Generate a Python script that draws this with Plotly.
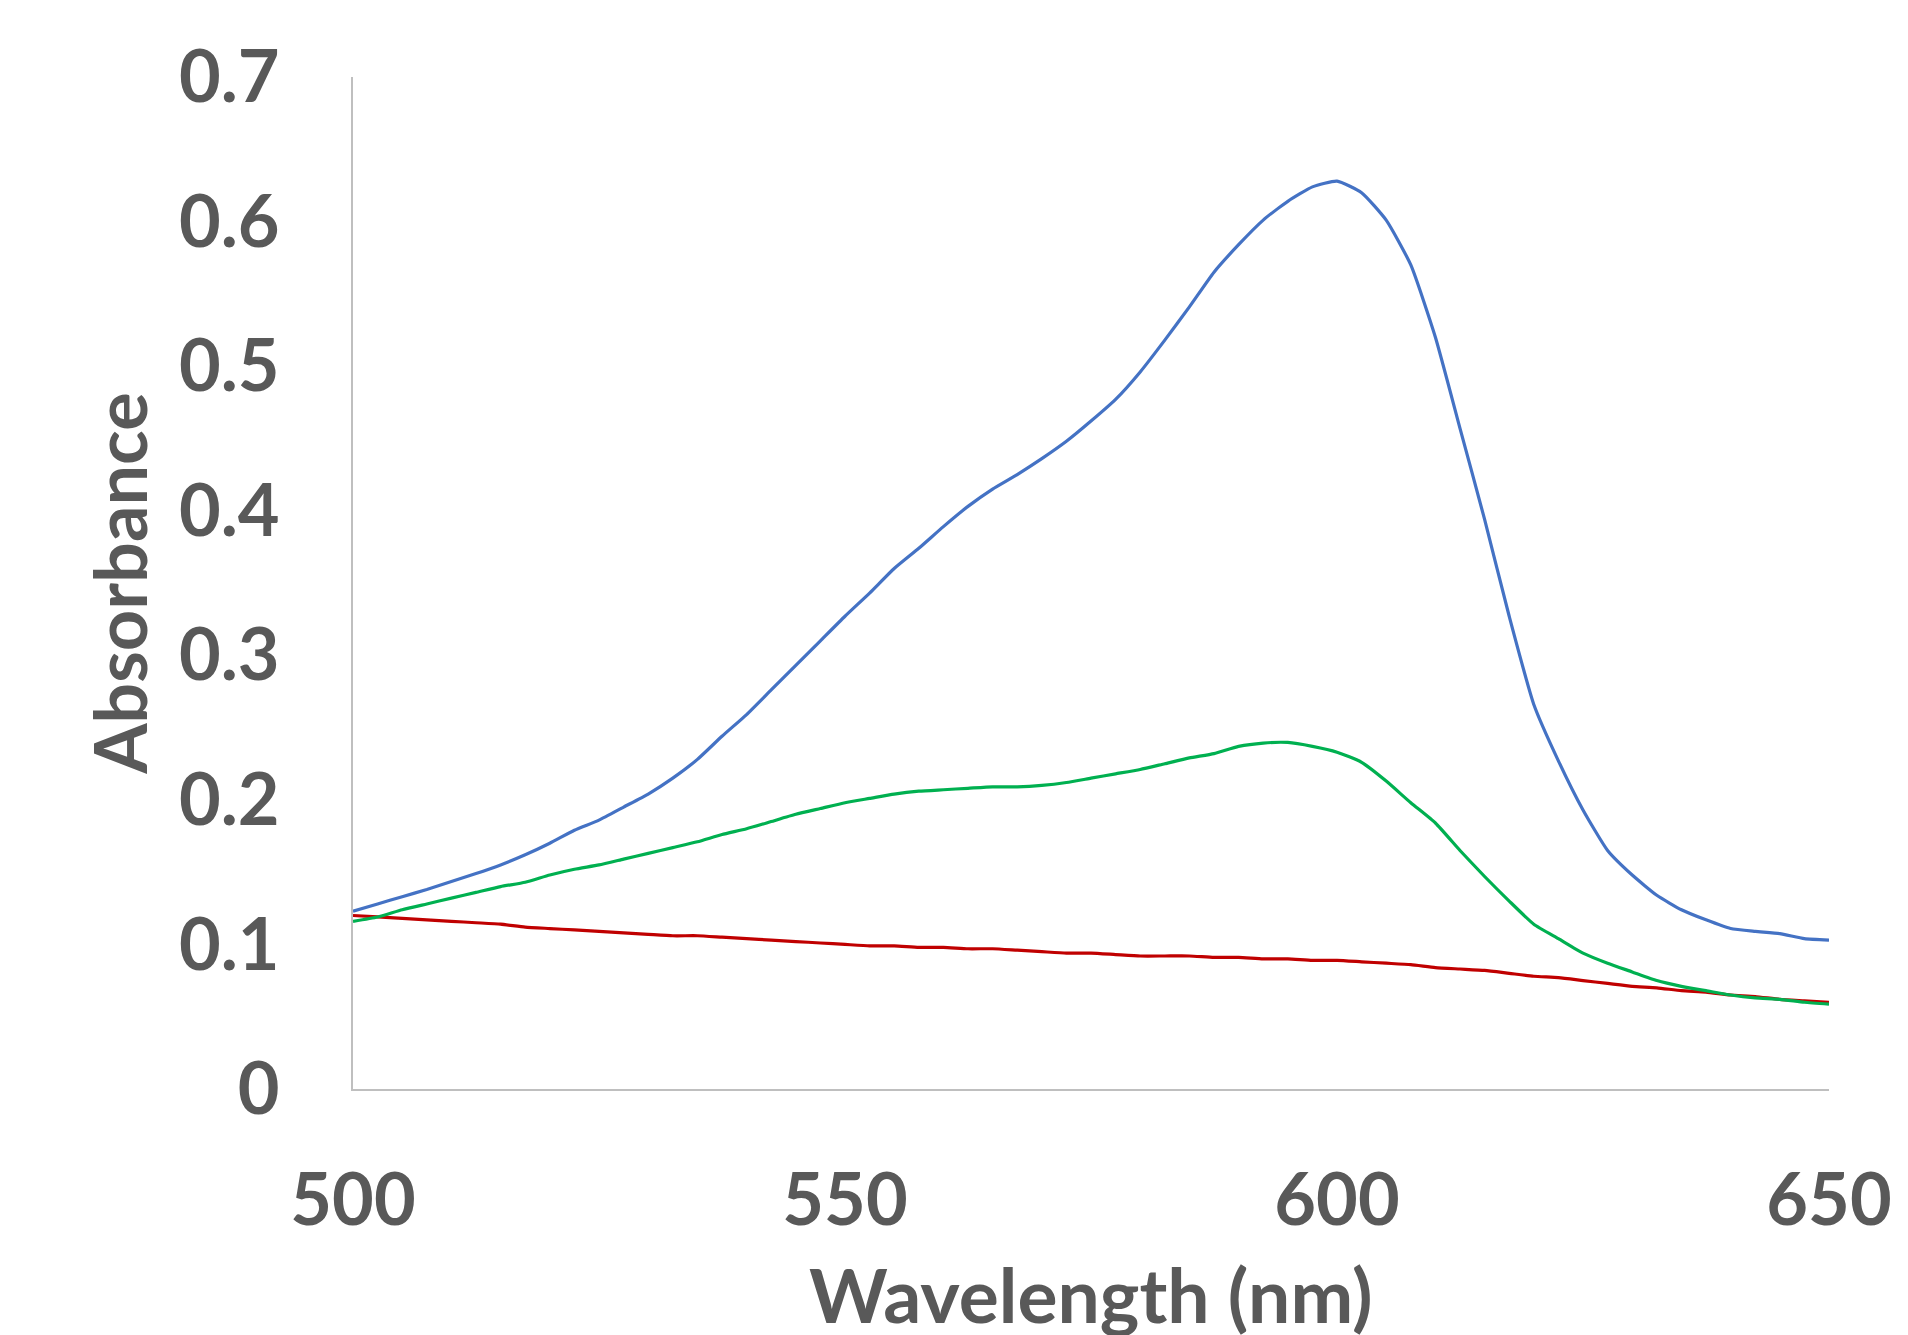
import plotly.graph_objects as go

wavelength = [500 + 2.5 * i for i in range(61)]

blue = [0.123, 0.128, 0.133, 0.138, 0.1435, 0.149, 0.155, 0.162, 0.170, 0.179,
        0.186, 0.195, 0.204, 0.215, 0.228, 0.244, 0.259, 0.276, 0.293, 0.310,
        0.327, 0.343, 0.360, 0.374, 0.389, 0.403, 0.415, 0.425, 0.436, 0.448,
        0.462, 0.477, 0.496, 0.518, 0.541, 0.565, 0.584, 0.601, 0.614, 0.624,
        0.628, 0.620, 0.601, 0.570, 0.520, 0.457, 0.394, 0.327, 0.266, 0.227,
        0.193, 0.165, 0.148, 0.134, 0.124, 0.117, 0.111, 0.109, 0.1075, 0.104,
        0.103]

green = [0.116, 0.119, 0.124, 0.128, 0.132, 0.136, 0.140, 0.143, 0.148, 0.152,
         0.155, 0.159, 0.163, 0.167, 0.171, 0.176, 0.180, 0.185, 0.190, 0.194,
         0.198, 0.201, 0.204, 0.206, 0.207, 0.208, 0.209, 0.209, 0.210, 0.212,
         0.215, 0.218, 0.221, 0.225, 0.229, 0.232, 0.237, 0.2393, 0.2397, 0.237,
         0.233, 0.226, 0.213, 0.198, 0.184, 0.165, 0.147, 0.130, 0.114, 0.104,
         0.094, 0.087, 0.081, 0.075, 0.071, 0.068, 0.065, 0.063, 0.062, 0.060,
         0.0587]

red = [0.120, 0.119, 0.118, 0.117, 0.116, 0.115, 0.114, 0.112, 0.111, 0.110,
       0.109, 0.108, 0.107, 0.106, 0.106, 0.105, 0.104, 0.103, 0.102, 0.101,
       0.100, 0.099, 0.099, 0.098, 0.098, 0.097, 0.097, 0.096, 0.095, 0.094,
       0.094, 0.093, 0.092, 0.092, 0.092, 0.091, 0.091, 0.090, 0.090, 0.089,
       0.089, 0.088, 0.087, 0.086, 0.084, 0.083, 0.082, 0.080, 0.078, 0.077,
       0.075, 0.073, 0.071, 0.070, 0.068, 0.067, 0.065, 0.064, 0.062, 0.061,
       0.060]

x_ticks = [500, 550, 600, 650]
y_ticks = [0, 0.1, 0.2, 0.3, 0.4, 0.5, 0.6, 0.7]
y_tick_text = ["0", "0.1", "0.2", "0.3", "0.4", "0.5", "0.6", "0.7"]

series = [("Series 1", blue, "#4472C4"),
          ("Series 2", red, "#C00000"),
          ("Series 3", green, "#00B050")]

fig = go.Figure()
for name, vals, color in series:
    fig.add_trace(go.Scatter(x=wavelength, y=vals, mode="lines", name=name,
                             line=dict(color=color, width=3.2, shape="spline",
                                       smoothing=0.5)))

font_family = "Lato"
tick_font = dict(family=font_family, size=72, color="#595959", weight="bold")
xtitle_font = dict(family=font_family, size=75, color="#595959", weight="bold")

fig.update_layout(
    width=1908, height=1335,
    margin=dict(l=353, r=79, t=77, b=246),
    paper_bgcolor="white", plot_bgcolor="white",
    showlegend=False,
    xaxis=dict(range=[500, 650], tickvals=x_ticks, showgrid=False, zeroline=False,
               showline=True, linecolor="#BFBFBF", linewidth=2, ticks="",
               tickfont=tick_font, ticklabelstandoff=48, automargin=False),
    yaxis=dict(range=[0, 0.7], tickvals=y_ticks, ticktext=y_tick_text,
               showgrid=False, zeroline=False,
               showline=True, linecolor="#BFBFBF", linewidth=2, ticks="",
               tickfont=tick_font, ticklabelstandoff=57, automargin=False,
               title=dict(text="Absorbance", font=tick_font, standoff=8)),
    annotations=[dict(text="Wavelength (nm)", xref="paper", yref="paper",
                      x=0.5, y=0, xanchor="center", yanchor="top",
                      yshift=-158, showarrow=False, font=xtitle_font)],
)

fig.write_html("out.html",
               config={"displayModeBar": False},
               post_script="document.body.style.margin='0';document.body.style.overflow='hidden';")
